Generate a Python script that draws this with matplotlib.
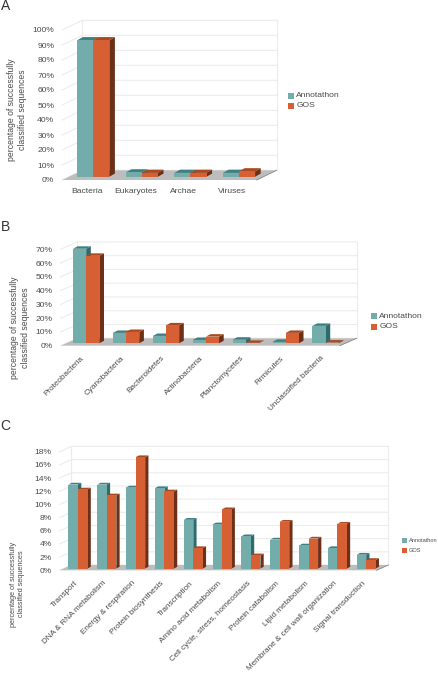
"""
Annotathon vs GOS taxonomy and function charts, drawn as fake 3D bars.
"""

import matplotlib

matplotlib.use("Agg")
import matplotlib.pyplot as plt
from matplotlib.patches import Polygon, Rectangle
from matplotlib.transforms import ScaledTranslation

plt.rcParams["font.family"] = ["Liberation Sans", "DejaVu Sans"]

FIG_W, FIG_H = 438, 674

TEAL = ("#72adac", "#3e7f82", "#2f6a6d")
ORANGE = ("#d66033", "#a8491f", "#6b3017")
TEXT = "#4a4a4a"
GRID = "#ececec"
FLOOR = "#bdbdbd"

KINGDOMS = ["Bacteria", "Eukaryotes", "Archae", "Viruses"]
KINGDOMS_ANNOT = [91.0, 2.9, 2.6, 2.6]
KINGDOMS_GOS = [91.0, 2.6, 2.6, 3.6]
KINGDOMS_TICKS = [0, 10, 20, 30, 40, 50, 60, 70, 80, 90, 100]

PHYLA = [
    "Proteobacteria",
    "Cyanobacteria",
    "Bacteroidetes",
    "Actinobacteria",
    "Planctomycetes",
    "Firmicutes",
    "Unclassified bacteria",
]
PHYLA_ANNOT = [68.6, 7.5, 5.3, 2.4, 2.6, 1.0, 12.6]
PHYLA_GOS = [63.5, 8.2, 13.0, 4.8, 0.3, 7.5, 0.5]
PHYLA_TICKS = [0, 10, 20, 30, 40, 50, 60, 70]

FUNCTIONS = [
    "Transport",
    "DNA & RNA metabolism",
    "Energy & respiration",
    "Protein biosynthesis",
    "Transcription",
    "Amino acid metabolism",
    "Cell cycle, stress, homeostasis",
    "Protein catabolism",
    "Lipid metabolism",
    "Membrane & cell wall organization",
    "Signal transduction",
]
FUNCTIONS_ANNOT = [12.75, 12.75, 12.3, 12.2, 7.4, 6.7, 4.9, 4.4, 3.5, 3.1, 2.1]
FUNCTIONS_GOS = [12.0, 11.1, 16.9, 11.7, 3.1, 9.0, 2.0, 7.1, 4.55, 6.8, 1.3]
FUNCTIONS_TICKS = [0, 2, 4, 6, 8, 10, 12, 14, 16, 18]


def draw_bar(ax, x0, x1, y0, y1, dx, dy, colors, zorder):
    ax.add_patch(
        Polygon(
            [(x1, y0), (x1 + dx, y0 + dy), (x1 + dx, y1 + dy), (x1, y1)],
            fc=colors[2],
            ec="none",
            zorder=zorder,
            clip_on=False,
        )
    )
    ax.add_patch(
        Polygon(
            [(x0, y1), (x1, y1), (x1 + dx, y1 + dy), (x0 + dx, y1 + dy)],
            fc=colors[1],
            ec="none",
            zorder=zorder,
            clip_on=False,
        )
    )
    ax.add_patch(
        Rectangle(
            (x0, y0), x1 - x0, y1 - y0, fc=colors[0], ec="none", zorder=zorder, clip_on=False
        )
    )


def draw_panel(
    letter, letter_y, box, depth, cats, annot, gos, ticks,
    ylabel_pos, ylabel_size, legend_pos, legend_size, rotated, label_size, label_pad, label_shift,
):
    left, right, top_px, bottom_px = box
    fig = plt.gcf()
    ax = fig.add_axes(
        [
            left / FIG_W,
            1 - bottom_px / FIG_H,
            (right - left) / FIG_W,
            (bottom_px - top_px) / FIG_H,
        ]
    )
    n = len(cats)
    ax.set_xlim(0, n)
    ax.set_ylim(ticks[0], ticks[-1])

    # depth of the box, in data units
    cat_px = (right - left) / n
    val_px = (bottom_px - top_px) / ticks[-1]
    dx = depth[0] / cat_px
    dy = depth[1] / val_px

    # walls
    for t in ticks:
        ax.plot([0, dx, n + dx], [t, t + dy, t + dy], color=GRID, lw=0.8, clip_on=False, zorder=1)
    for xw in (dx, n + dx):
        ax.plot([xw, xw], [dy, ticks[-1] + dy], color=GRID, lw=0.8, clip_on=False, zorder=1)
    ax.add_patch(
        Polygon(
            [(0, 0), (n, 0), (n + dx, dy), (dx, dy)],
            fc=FLOOR,
            ec="none",
            zorder=2,
            clip_on=False,
        )
    )
    ax.plot([n, n + dx], [0, dy], color="#777777", lw=0.5, clip_on=False, zorder=2)

    # bars stand a third of the way into the box
    width = 0.33
    bar_dx = dx * 0.28
    bar_dy = dy * 0.33
    base = dy / 3
    for i in range(n):
        mid = i + 0.5 + dx / 3
        draw_bar(ax, mid - width, mid, base, annot[i] + base, bar_dx, bar_dy, TEAL, 3 + i * 2)
        draw_bar(ax, mid, mid + width, base, gos[i] + base, bar_dx, bar_dy, ORANGE, 4 + i * 2)

    for side in ax.spines.values():
        side.set_visible(False)
    ax.patch.set_visible(False)
    ax.set_yticks(ticks)
    ax.set_yticklabels(["%d%%" % t for t in ticks], fontsize=6.1, color=TEXT)
    ax.set_xticks([i + 0.5 for i in range(n)])
    if rotated:
        labels = ax.set_xticklabels(
            cats, fontsize=label_size, color=TEXT, rotation=45, ha="right", rotation_mode="anchor"
        )
        shift = ScaledTranslation(label_shift / 100, 0, fig.dpi_scale_trans)
        for lab in labels:
            lab.set_transform(lab.get_transform() + shift)
    else:
        ax.set_xticklabels(cats, fontsize=label_size, color=TEXT)
    ax.tick_params(axis="y", length=0, pad=5.8)
    ax.tick_params(axis="x", length=0, pad=label_pad)

    fig.text(0.5 / FIG_W, 1 - letter_y / FIG_H, letter, fontsize=10, color="#333333", va="center")
    fig.text(
        ylabel_pos[0] / FIG_W,
        1 - ylabel_pos[1] / FIG_H,
        "percentage of successfully\nclassified sequences",
        fontsize=ylabel_size,
        color=TEXT,
        rotation=90,
        ha="center",
        va="center",
        ma="center",
        linespacing=1.2,
    )

    # legend is placed by hand so the swatches land where the original has them
    lx, ly, step, sq = legend_pos
    for k, (name, col) in enumerate([("Annotathon", TEAL[0]), ("GOS", ORANGE[0])]):
        yk = ly + k * step
        fig.add_artist(
            Rectangle(
                (lx / FIG_W, 1 - (yk + sq / 2) / FIG_H),
                sq / FIG_W,
                sq / FIG_H,
                fc=col,
                ec="none",
                transform=fig.transFigure,
            )
        )
        fig.text(
            (lx + sq + 2.5) / FIG_W,
            1 - yk / FIG_H,
            name,
            fontsize=legend_size,
            color=TEXT,
            va="center",
        )


def main():
    plt.figure(figsize=(FIG_W / 100, FIG_H / 100), dpi=100)

    draw_panel(
        "A", 6, (62.3, 256.7, 30, 180), (20, 9.7), KINGDOMS, KINGDOMS_ANNOT, KINGDOMS_GOS,
        KINGDOMS_TICKS, (17, 110), 6.2, (287.7, 95.7, 10, 6), 6.1, False, 6.1, 6, 0,
    )
    draw_panel(
        "B", 227, (60.7, 340, 249.3, 345.7), (16.6, 7.4), PHYLA, PHYLA_ANNOT, PHYLA_GOS,
        PHYLA_TICKS, (20, 328), 6.2, (370.7, 316.3, 10.4, 6), 6.1, True, 5.9, 6.5, -3.5,
    )
    draw_panel(
        "C", 426, (59.7, 376.7, 451.7, 570.3), (11.7, 5.3), FUNCTIONS, FUNCTIONS_ANNOT, FUNCTIONS_GOS,
        FUNCTIONS_TICKS, (18, 584), 5.2, (401.7, 540.7, 9.4, 5), 4.1, True, 5.9, 6.8, -2.5,
    )

    plt.savefig("out.png", dpi=100)


if __name__ == "__main__":
    main()
